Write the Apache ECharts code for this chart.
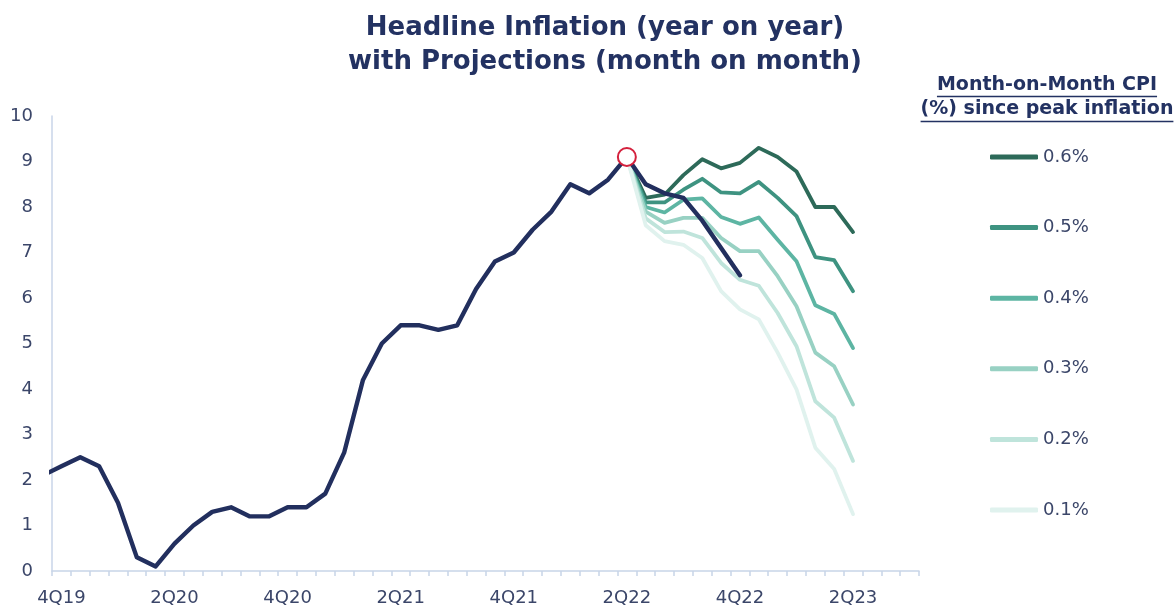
<!DOCTYPE html>
<html>
<head>
<meta charset="utf-8">
<script src="https://cdn.jsdelivr.net/npm/echarts@6/dist/echarts.min.js"></script>
<style>
  html, body { margin: 0; padding: 0; background: #ffffff; }
  #chart { width: 1176px; height: 607px; }
</style>
</head>
<body>
<div id="chart"></div>
<script>
// ---- DATA ----
// Monthly categories shown on the x axis (Dec-19 .. Sep-23)
const months = [
  'Dec-19','Jan-20','Feb-20','Mar-20','Apr-20','May-20','Jun-20','Jul-20','Aug-20','Sep-20','Oct-20','Nov-20',
  'Dec-20','Jan-21','Feb-21','Mar-21','Apr-21','May-21','Jun-21','Jul-21','Aug-21','Sep-21','Oct-21','Nov-21',
  'Dec-21','Jan-22','Feb-22','Mar-22','Apr-22','May-22','Jun-22','Jul-22','Aug-22','Sep-22','Oct-22','Nov-22',
  'Dec-22','Jan-23','Feb-23','Mar-23','Apr-23','May-23','Jun-23','Jul-23','Aug-23','Sep-23'
];
// Quarter tick labels (every 6th month)
const quarterLabels = ['4Q19','2Q20','4Q20','2Q21','4Q21','2Q22','4Q22','2Q23'];

// Headline inflation YoY, Nov-19 .. Dec-22 (first value sits before the axis start and is clipped)
const headlineStartIndex = -1;
const headlineYoY = [2.1, 2.3, 2.5, 2.3, 1.5, 0.3, 0.1, 0.6, 1.0, 1.3, 1.4, 1.2, 1.2, 1.4, 1.4, 1.7,
  2.6, 4.2, 5.0, 5.4, 5.4, 5.3, 5.4, 6.2, 6.8, 7.0, 7.5, 7.9, 8.5, 8.3, 8.6, 9.1, 8.5, 8.3, 8.2, 7.7, 7.1, 6.5];

// Peak
const peakIndex = 30;
const peakValue = 9.1;

// Projections Jun-22 .. Jun-23 by month-on-month CPI assumption
const projStartIndex = 30;
const proj06 = [9.1, 8.2, 8.27, 8.7, 9.05, 8.85, 8.97, 9.3, 9.1, 8.78, 8.0, 8.0, 7.45];
const proj05 = [9.1, 8.1, 8.1, 8.38, 8.62, 8.32, 8.3, 8.55, 8.2, 7.8, 6.9, 6.83, 6.15];
const proj04 = [9.1, 8.0, 7.88, 8.16, 8.19, 7.78, 7.63, 7.77, 7.28, 6.81, 5.84, 5.65, 4.9];
const proj03 = [9.1, 7.9, 7.65, 7.76, 7.76, 7.32, 7.03, 7.03, 6.48, 5.82, 4.8, 4.5, 3.66];
const proj02 = [9.1, 7.75, 7.45, 7.46, 7.32, 6.77, 6.4, 6.27, 5.67, 4.94, 3.73, 3.37, 2.42];
const proj01 = [9.1, 7.6, 7.25, 7.17, 6.88, 6.15, 5.75, 5.53, 4.8, 3.99, 2.71, 2.24, 1.25];
const projNames = ['0.6%','0.5%','0.4%','0.3%','0.2%','0.1%'];

// ---- STYLE ----
const navy = '#222f5e';
const labelColor = '#3b4669';
const titleColor = '#233262';
const projColors = {
  '0.6%': '#2d6a59',
  '0.5%': '#3e9381',
  '0.4%': '#5db5a3',
  '0.3%': '#98d1c3',
  '0.2%': '#bfe4db',
  '0.1%': '#e0f2ee'
};
const FONT = '"DejaVu Sans", sans-serif';

function toPairs(start, arr) { return arr.map((v, i) => [start + i, v]); }

const projData = { '0.6%': proj06, '0.5%': proj05, '0.4%': proj04, '0.3%': proj03, '0.2%': proj02, '0.1%': proj01 };

const series = [];
// darkest drawn first, lightest on top
projNames.forEach((name, k) => {
  series.push({
    name: name,
    type: 'line',
    xAxisIndex: 1,
    data: toPairs(projStartIndex, projData[name]),
    showSymbol: false,
    symbol: 'none',
    lineStyle: { color: projColors[name], width: 3.8, join: 'round', cap: 'round' },
    itemStyle: { color: projColors[name] },
    z: 2,
    zlevel: 0,
    animation: false
  });
});
series.push({
  name: 'Headline',
  type: 'line',
  xAxisIndex: 1,
  data: toPairs(headlineStartIndex, headlineYoY),
  showSymbol: false,
  symbol: 'none',
  clip: true,
  lineStyle: { color: navy, width: 4.4, join: 'round', cap: 'round' },
  z: 3,
  animation: false
});
series.push({
  name: 'Peak',
  type: 'scatter',
  xAxisIndex: 1,
  data: [[peakIndex, peakValue]],
  symbol: 'circle',
  symbolSize: 18,
  itemStyle: { color: '#ffffff', borderColor: '#d4213d', borderWidth: 2, opacity: 1 },
  z: 5,
  animation: false
});

const chart = echarts.init(document.getElementById('chart'), null, { renderer: 'canvas' });

// measure text for legend title underlines
const mctx = document.createElement('canvas').getContext('2d');
const legFont = 'bold 19px "DejaVu Sans", sans-serif';
mctx.font = legFont;
const legLine1 = 'Month-on-Month CPI';
const legLine2 = '(%) since peak inflation';
const w1 = mctx.measureText(legLine1).width;
const w2 = mctx.measureText(legLine2).width;
const legCx = 1047;

chart.setOption({
  backgroundColor: '#ffffff',
  animation: false,
  textStyle: { fontFamily: FONT },
  title: {
    text: 'Headline Inflation (year on year)\nwith Projections (month on month)',
    left: 600,
    textAlign: 'center',
    top: 6,
    textStyle: { fontFamily: FONT, fontWeight: 'bold', fontSize: 26, lineHeight: 34, color: titleColor }
  },
  grid: { left: 52, right: 257, top: 116, bottom: 35, containLabel: false },
  legend: {
    data: projNames,
    orient: 'vertical',
    left: 990,
    top: 147,
    padding: 0,
    itemWidth: 48,
    itemHeight: 5,
    itemGap: 50.6,
    icon: 'roundRect',
    textStyle: { fontFamily: FONT, fontSize: 18, color: labelColor, lineHeight: 20 },
    selectedMode: false
  },
  graphic: [
    { type: 'text', left: legCx - w1 / 2, top: 76, style: { text: legLine1, font: legFont, fill: titleColor } },
    { type: 'text', left: legCx - w2 / 2, top: 100, style: { text: legLine2, font: legFont, fill: titleColor } },
    { type: 'line', shape: { x1: legCx - w1 / 2, y1: 96.5, x2: legCx + w1 / 2, y2: 96.5 }, style: { stroke: titleColor, lineWidth: 1.3 } },
    { type: 'line', shape: { x1: legCx - w2 / 2, y1: 121.5, x2: legCx + w2 / 2, y2: 121.5 }, style: { stroke: titleColor, lineWidth: 1.3 } }
  ],
  xAxis: [
    {
      type: 'category',
      data: months,
      boundaryGap: true,
      axisLine: { show: true, lineStyle: { color: '#c8d5e8', width: 1.5 } },
      axisTick: { show: true, interval: 0, length: 5, lineStyle: { color: '#c8d5e8', width: 1.5 } },
      axisLabel: {
        interval: 0,
        margin: 18,
        fontFamily: FONT,
        fontSize: 18,
        color: labelColor,
        formatter: (val, idx) => (idx % 6 === 0 ? quarterLabels[idx / 6] : '')
      },
      splitLine: { show: false }
    },
    {
      type: 'value',
      min: -0.5,
      max: months.length - 0.5,
      show: false,
      splitLine: { show: false }
    }
  ],
  yAxis: {
    type: 'value',
    min: 0,
    max: 10,
    interval: 1,
    axisLine: { show: true, onZero: false, lineStyle: { color: '#c8d5e8', width: 1.5 } },
    axisTick: { show: false },
    splitLine: { show: false },
    axisLabel: { margin: 19, fontFamily: FONT, fontSize: 18, color: labelColor }
  },
  series: series
});
</script>
</body>
</html>
